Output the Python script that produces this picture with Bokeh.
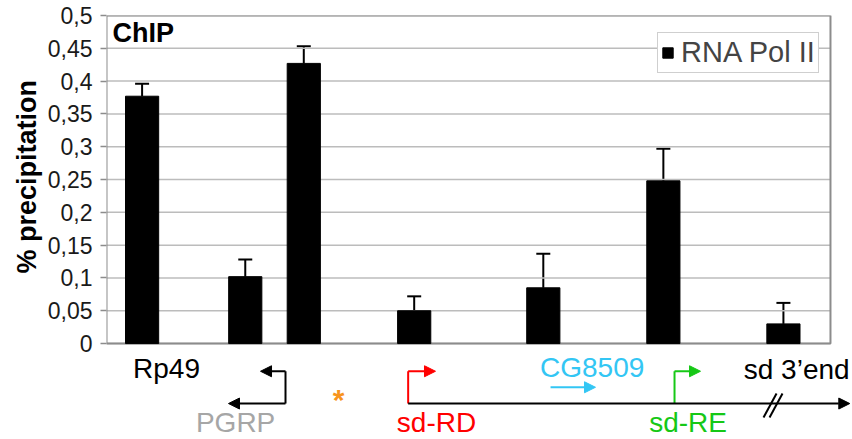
from bokeh.plotting import figure
from bokeh.models import (Range1d, FixedTicker, Whisker, TeeHead, ColumnDataSource,
                          Arrow, NormalHead, Label, Legend, LegendItem, Title)
from bokeh.core.properties import value
from bokeh.embed import file_html
from bokeh.resources import INLINE

# ---------------- data ----------------
PROBE_POS = [0.59, 2.30, 3.27, 5.10, 7.24, 9.23, 11.22]      # probe positions along the locus
POL2 = [0.377, 0.102, 0.427, 0.050, 0.085, 0.248, 0.030]      # % precipitation
POL2_ERR = [0.019, 0.026, 0.026, 0.022, 0.052, 0.049, 0.032]  # upper error
TICKS = [0, 0.05, 0.1, 0.15, 0.2, 0.25, 0.3, 0.35, 0.4, 0.45, 0.5]
TICK_LABELS = ["0", "0,05", "0,1", "0,15", "0,2", "0,25", "0,3", "0,35", "0,4", "0,45", "0,5"]
SERIES = "RNA Pol II"
Y_TITLE = "% precipitation"

# gene diagram annotations (drawn below the chart, in the same coordinates)
GENE_LABELS = ["Rp49", "PGRP", "sd-RD", "CG8509", "sd-RE", "sd 3\u2019end"]
GENE_X = [0.995, 2.14, 5.47, 8.05, 9.64, 11.44]
GENE_Y = [-0.0373, -0.1206, -0.1200, -0.0366, -0.1200, -0.0396]
GENE_COLORS = ["black", "#a6a6a6", "#ff0000", "#33c6f4", "#16c816", "black"]

FONT = "Liberation Sans"
X_MAX = 12.0

src = ColumnDataSource(dict(x=PROBE_POS, val=POL2,
                            upper=[v + e for v, e in zip(POL2, POL2_ERR)]))

p = figure(width=852, height=439, x_range=Range1d(0, 12.365), y_range=Range1d(-0.1462, 0.5),
           output_backend="svg", toolbar_location=None,
           min_border_left=106, min_border_right=0, min_border_top=15, min_border_bottom=0)
p.xaxis.visible = False
p.grid.visible = False
p.outline_line_color = None

ax = p.yaxis[0]
ax.ticker = FixedTicker(ticks=TICKS)
ax.major_label_overrides = {t: l for t, l in zip(TICKS, TICK_LABELS)}
ax.axis_line_color = None
ax.major_tick_line_color = "#8c8c8c"
ax.major_tick_line_width = 1.5
ax.major_tick_out = 6
ax.major_tick_in = 0
ax.minor_tick_line_color = None
ax.major_label_standoff = 8
ax.major_label_text_font = FONT
ax.major_label_text_font_size = "23px"
ax.major_label_text_color = "#1a1a1a"

# y-axis title, centred on the chart part (not on the diagram below it)
p.add_layout(Title(text=Y_TITLE, align="left", offset=166, standoff=6,
                   text_font=FONT, text_font_size="27px", text_font_style="bold",
                   text_color="black"), "left")

# gridlines and chart border
p.segment(x0=[0] * len(TICKS), x1=[X_MAX] * len(TICKS), y0=TICKS, y1=TICKS,
          line_color="#bcbcbc", line_width=1.5)
p.quad(left=[0], right=[X_MAX], bottom=[TICKS[0]], top=[TICKS[-1]],
       fill_color=None, line_color="#8c8c8c", line_width=2)

bars = p.vbar(x="x", top="val", width=0.55, source=src, fill_color="black", line_color="black")
p.add_layout(Whisker(base="x", lower="val", upper="upper", source=src,
                     upper_head=TeeHead(size=14, line_width=2, line_color="black"),
                     lower_head=None, line_width=2, line_color="black"))

p.add_layout(Label(x=0.1, y=0.473, text="ChIP", text_font=FONT, text_font_size="27px",
                   text_font_style="bold", text_color="black",
                   text_baseline="middle", text_align="left"))

legend = Legend(items=[LegendItem(label=SERIES, renderers=[bars])], location=(551, 366),
                label_text_font=FONT, label_text_font_size="29px", glyph_width=13, glyph_height=13,
                padding=3, margin=0, label_standoff=7, border_line_color="#a0a0a0",
                border_line_width=1, background_fill_color="white", background_fill_alpha=1)
p.add_layout(legend)

# ---------------- gene diagram ----------------
p.text(x=GENE_X, y=GENE_Y, text=GENE_LABELS, text_color=GENE_COLORS,
       text_font=value(FONT), text_font_size="28px", text_align="center", text_baseline="middle")
p.text(x=[3.845], y=[-0.0853], text=["*"], text_color="#f7941d", text_font=value(FONT),
       text_font_size="30px", text_font_style="bold", text_align="center", text_baseline="middle")

LINE_Y = -0.0914
UP_Y = -0.0422


def arrow(x0, y0, x1, y1, color):
    p.add_layout(Arrow(end=NormalHead(size=11, fill_color=color, line_color=color),
                       x_start=x0, y_start=y0, x_end=x1, y_end=y1,
                       line_color=color, line_width=2))


# PGRP (reverse strand)
p.line([2.967, 2.967], [UP_Y, LINE_Y], line_color="black", line_width=2)
arrow(2.967, UP_Y, 2.553, UP_Y, "black")
arrow(2.967, LINE_Y, 2.022, LINE_Y, "black")
# sd locus baseline
arrow(5.0, LINE_Y, 12.32, LINE_Y, "black")
# sd-RD
p.line([5.0, 5.0], [LINE_Y, UP_Y], line_color="#ff0000", line_width=2)
arrow(5.0, UP_Y, 5.453, UP_Y, "#ff0000")
# CG8509
arrow(7.36, -0.0666, 8.105, -0.0666, "#33c6f4")
# sd-RE
p.line([9.415, 9.415], [LINE_Y, UP_Y], line_color="#16c816", line_width=2)
arrow(9.415, UP_Y, 9.846, UP_Y, "#16c816")
# break marks
p.segment(x0=[10.89, 10.99], y0=[-0.1127, -0.1127], x1=[11.106, 11.205], y1=[-0.0762, -0.0762],
          line_color="black", line_width=2)

open("out.html", "w").write(file_html(p, INLINE))
